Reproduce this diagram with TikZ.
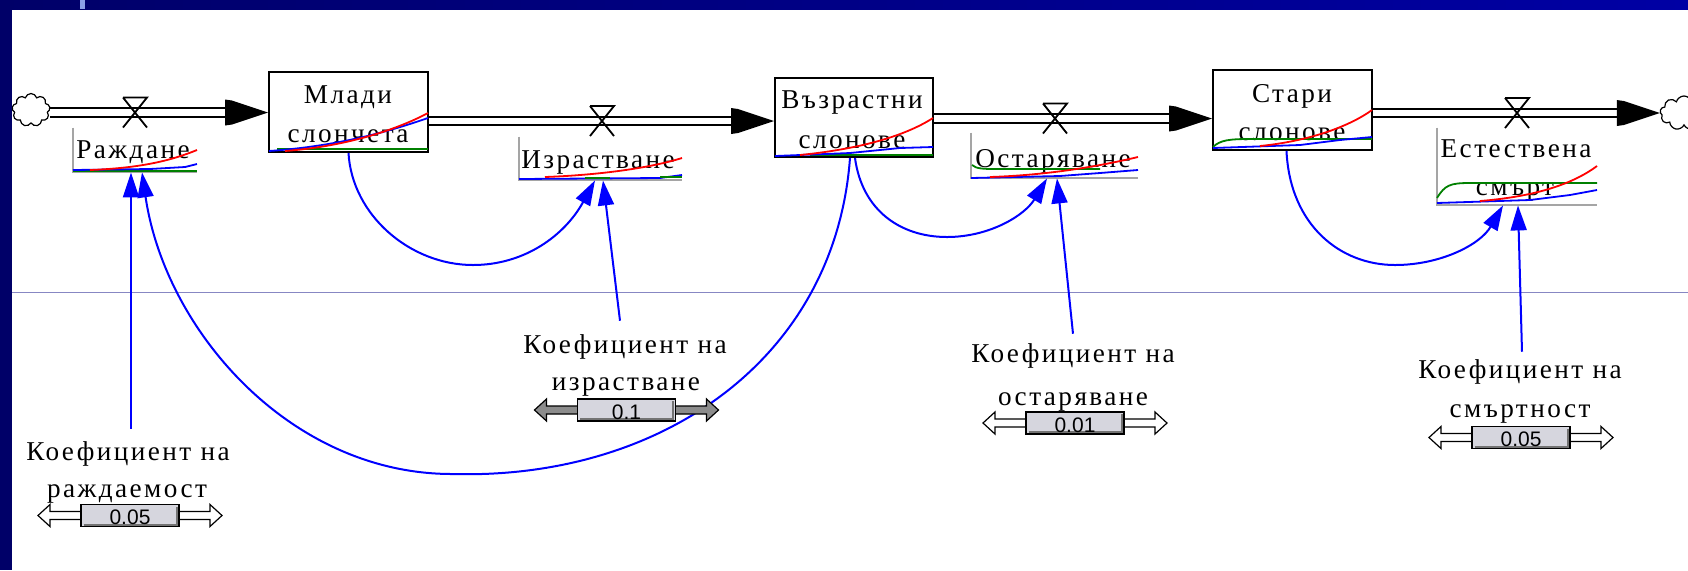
\documentclass[tikz,border=0pt]{standalone}
\usepackage{fontspec}
\setmainfont{Liberation Serif}
\newfontfamily\lblfont{Liberation Serif}[LetterSpace=9]
\newfontfamily\valfont{Liberation Sans}
\usetikzlibrary{shapes.symbols,arrows.meta,calc}
\definecolor{navyL}{RGB}{0,0,104}
\definecolor{navyR}{RGB}{0,0,164}
\definecolor{markblue}{RGB}{140,160,230}
\definecolor{rulecol}{RGB}{135,135,195}
\definecolor{framegray}{RGB}{165,165,165}
\definecolor{boxgray}{RGB}{214,214,222}
\definecolor{shaftgray}{RGB}{140,140,140}
\definecolor{sgreen}{RGB}{0,128,0}
\tikzset{
 lbl/.style={font=\lblfont\fontsize{13.6}{15}\selectfont, inner sep=2pt, text=black},
 stock/.style={draw=black, line width=1pt, fill=white, inner sep=0pt},
 rate/.style={inner sep=0pt},
 rateframe/.style={draw=framegray, line width=1pt},
 pipe/.style={draw=black, line width=1pt, double=white, double distance=3.4pt},
 conn/.style={draw=blue, line width=1pt, -{Triangle[length=12.5pt,width=8pt]}},
 spark/.style={line width=0.9pt},
 valtxt/.style={font=\valfont\fontsize{10.5}{12}\selectfont, inner sep=0pt, text=black},
 cloudnode/.style={cloud, cloud puffs=9, aspect=1.15, draw=black, fill=white, line width=0.6pt, inner sep=0pt},
 pics/valve/.style={code={\draw[line width=0.9pt] (-12,-15) -- (12,-15) -- (-12,15) (12,15) -- (-12,-15);}},
}
\newcommand\flowpipe[3]{%
 \coordinate (#1s) at #2; \coordinate (#1e) at #3;
 \draw[pipe] (#1s) -- ($(#1e)+(-40,0)$);
 \fill[black] ($(#1e)+(-43,-13)$) -- ($(#1e)+(-36,-12)$) -- (#1e) -- ($(#1e)+(-36,12)$) -- ($(#1e)+(-43,13)$) -- cycle;}
\newcommand\slidr[4]{%
 \begin{scope}[shift={#2}]
 \draw[fill=#3, line width=0.6pt] (-92,0) -- (-80,-11) -- (-80,-4) -- (80,-4) -- (80,-11) -- (92,0) -- (80,11) -- (80,4) -- (-80,4) -- (-80,11) -- cycle;
 \node[draw=black, line width=0.8pt, fill=boxgray, minimum width=49pt, minimum height=11pt, inner sep=0pt] (#1) at (0,0) {};
 \draw[black!55, line width=1pt] (-46.5,9) -- (46.5,9) -- (46.5,-9);
 \node[valtxt, anchor=base] (#1v) at (0,9) {#4};
 \end{scope}}
\begin{document}
\begin{tikzpicture}[x=0.5pt, y=-0.5pt]
\useasboundingbox (0,0) rectangle (1688,570);
\begin{scope}
\clip (0,0) rectangle (1688,570);
\fill[white] (0,0) rectangle (1688,570);
\draw[rulecol, line width=0.45pt] (12,292) -- (1688,292);

% valves positions
\coordinate (v1) at (135,112.5);
\coordinate (v2) at (602,121);
\coordinate (v3) at (1055,118.5);
\coordinate (v4) at (1517,113);

% clouds
\node[cloudnode, minimum width=19pt, minimum height=16.5pt] (c1) at (31,110) {};
\node[cloudnode, minimum width=24pt, minimum height=17pt] (c2) at (1684,113) {};

% stocks
\node[stock, minimum width=79.5pt, minimum height=40pt] (st1) at (348.5,112) {};
\node[stock, minimum width=79pt, minimum height=39.5pt] (st2) at (854,117.5) {};
\node[stock, minimum width=79.5pt, minimum height=40pt] (st3) at (1292.5,110) {};

% flows
\flowpipe{p1}{(c1.east |- v1)}{(st1.west |- v1)}
\flowpipe{p2}{(st1.east |- v2)}{(st2.west |- v2)}
\flowpipe{p3}{(st2.east |- v3)}{(st3.west |- v3)}
\flowpipe{p4}{(st3.east |- v4)}{(c2.west |- v4)}
\pic at (v1) {valve};
\pic at (v2) {valve};
\pic at (v3) {valve};
\pic at (v4) {valve};

% rate frames
\node[rate, minimum width=62pt, minimum height=22pt] (r1) at (135,150) {};
\node[rate, minimum width=81.5pt, minimum height=21.5pt] (r2) at (600.5,158.5) {};
\node[rate, minimum width=83.5pt, minimum height=22.5pt] (r3) at (1054.5,155.5) {};
\node[rate, minimum width=80pt, minimum height=38.5pt] (r4) at (1517,166.5) {};
\foreach \r in {r1,r2,r3,r4}{\draw[rateframe] (\r.north west) -- (\r.south west) -- (\r.south east);}

% texts
\node[lbl, anchor=base] (st1a) at (348,103) {Млади};
\node[lbl, anchor=base] (st1b) at (348,142) {слончета};
\node[lbl, anchor=base] (st2a) at (852,108) {Възрастни};
\node[lbl, anchor=base] (st2b) at (852,148) {слонове};
\node[lbl, anchor=base] (st3a) at (1292,102) {Стари};
\node[lbl, anchor=base] (st3b) at (1292,140) {слонове};
\node[lbl, anchor=base] (r1t) at (133,158) {Раждане};
\node[lbl, anchor=base] (r2t) at (598,168) {Израстване};
\node[lbl, anchor=base] (r3t) at (1053,167) {Остаряване};
\node[lbl, anchor=base] (r4a) at (1516,157) {Естествена};
\node[lbl, anchor=base] (r4b) at (1515,195) {смърт};

% sparklines
\draw[spark, sgreen] (277,149) -- (428,149);
\draw[spark, blue] (269,151) .. controls (340,146) and (390,131) .. (428,118);
\draw[spark, red] (285,151) .. controls (350,146) and (400,128) .. (428,113);

\draw[spark, sgreen] (73,171) -- (197,171);
\draw[spark, blue] (73,170) -- (150,169) -- (185,167) -- (197,164);
\draw[spark, red] (90,170) .. controls (140,168) and (170,161) .. (197,150);

\draw[spark, blue] (519,179) -- (660,178) -- (682,175);
\draw[spark, red] (545,177) .. controls (600,175) and (650,168) .. (682,158);
\draw[spark, sgreen] (585,178) -- (610,178) (660,177) -- (682,177);

\draw[spark, sgreen] (810,155) -- (933,155);
\draw[spark, blue] (775,156) -- (850,153) -- (900,148) -- (933,147);
\draw[spark, red] (800,155) .. controls (860,149) and (905,136) .. (933,118);

\draw[spark, sgreen] (972,165) .. controls (976,169) and (985,169) .. (997,169) -- (1100,169);
\draw[spark, blue] (971,178) -- (1060,176) -- (1100,173) -- (1138,170);
\draw[spark, red] (990,177) .. controls (1050,175) and (1100,166) .. (1138,157);

\draw[spark, sgreen] (1213,147) .. controls (1220,140) and (1230,139) .. (1250,139) -- (1372,139);
\draw[spark, blue] (1213,148) -- (1300,145) -- (1340,140) -- (1372,137);
\draw[spark, red] (1260,146) .. controls (1310,141) and (1350,126) .. (1372,110);

\draw[spark, sgreen] (1437,198) .. controls (1445,185) and (1450,183) .. (1470,183) -- (1597,183);
\draw[spark, blue] (1437,203) -- (1530,200) -- (1570,195) -- (1597,190);
\draw[spark, red] (1480,201) .. controls (1530,197) and (1570,186) .. (1597,166);

% constants text
\node[lbl, anchor=base] (k1a) at (128,460) {Коефициент на};
\node[lbl, anchor=base] (k1b) at (127,497) {раждаемост};
\node[lbl, anchor=base] (k2a) at (625,353) {Коефициент на};
\node[lbl, anchor=base] (k2b) at (626,390) {израстване};
\node[lbl, anchor=base] (k3a) at (1073,362) {Коефициент на};
\node[lbl, anchor=base] (k3b) at (1073,405) {остаряване};
\node[lbl, anchor=base] (k4a) at (1520,378) {Коефициент на};
\node[lbl, anchor=base] (k4b) at (1520,417) {смъртност};

% connectors
\draw[conn] ($(k1a.north)+(3,-8)$) -- ($(r1.south)+(-4,0)$);
\draw[conn] ($(st2.south)+(-4,0)$) .. controls (835,360) and (660,480) .. (452,474) .. controls (290,474) and (165,330) .. ($(r1.south)+(7,0)$);
\draw[conn] (st1.south) .. controls (352,215) and (410,265) .. (473,265) .. controls (525,265) and (565,235) .. ($(r2.south)+(-5.5,0)$);
\draw[conn] ($(k2a.north)+(-5,-9)$) -- ($(r2.south)+(2.5,0)$);
\draw[conn] ($(st2.south)+(1,0)$) .. controls (862,210) and (900,237) .. (947,237) .. controls (990,237) and (1025,215) .. ($(r3.south)+(-7.5,0)$);
\draw[conn] ($(k3a.north)+(0,-5)$) -- ($(r3.south)+(2.5,0)$);
\draw[conn] ($(st3.south)+(-6,0)$) .. controls (1290,225) and (1340,265) .. (1395,265) .. controls (1440,265) and (1480,245) .. ($(r4.south)+(-14,0)$);
\draw[conn] ($(k4a.north)+(2,-3)$) -- ($(r4.south)+(1,0)$);

% sliders
\slidr{s1}{(130,515.5)}{white}{0.05}
\slidr{s2}{(626.5,410)}{shaftgray}{0.1}
\slidr{s3}{(1075,423)}{white}{0.01}
\slidr{s4}{(1521,437.5)}{white}{0.05}

% frame of the slide
\shade[left color=navyL, right color=navyR] (0,0) rectangle (1688,9);
\fill[navyL] (0,0) rectangle (12,570);
\fill[markblue] (80,0) rectangle (85,9);
\end{scope}
\end{tikzpicture}
\end{document}
